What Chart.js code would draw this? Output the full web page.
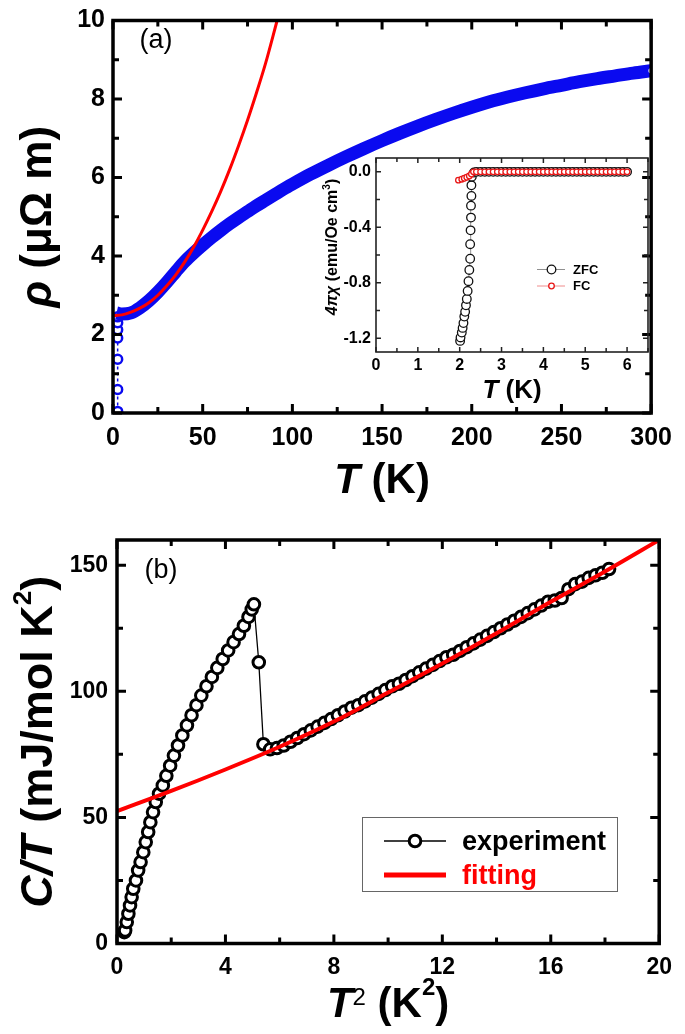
<!DOCTYPE html>
<html>
<head>
<meta charset="utf-8">
<script src="https://cdn.jsdelivr.net/npm/chart.js@4.4.1/dist/chart.umd.min.js"></script>
<style>
  body { margin: 0; background: #fff; }
  #wrap { position: relative; width: 685px; height: 1034px; overflow: hidden; background: #fff; }
  canvas { position: absolute; }
</style>
</head>
<body>
<div id="wrap">
  <canvas id="chartA" width="685" height="502" style="left:0;top:0"></canvas>
  <canvas id="chartInset" width="360" height="260" style="left:300px;top:145px"></canvas>
  <canvas id="chartB" width="685" height="534" style="left:0;top:500px"></canvas>
</div>
<script>
// ---- panel (a): resistivity vs T ----
const bandT = [2, 5, 10, 15, 20, 25, 30, 35, 40, 45, 50, 55, 60, 65, 70, 75, 80, 85, 90, 95, 100,
  110, 120, 130, 140, 150, 160, 170, 180, 190, 200, 210, 220, 230, 240, 250, 260, 270, 280, 290, 300];
const bandRho = [2.55, 2.52, 2.55, 2.68, 2.86, 3.08, 3.33, 3.6, 3.86, 4.08, 4.28, 4.47, 4.65, 4.82, 4.98, 5.13, 5.28, 5.42, 5.56, 5.7, 5.83,
  6.08, 6.31, 6.53, 6.74, 6.94, 7.13, 7.31, 7.48, 7.64, 7.79, 7.93, 8.05, 8.16, 8.26, 8.35, 8.44, 8.52, 8.59, 8.66, 8.72];
// superconducting drop near 2 K
const dropT = [2.6, 2.6, 2.6, 2.6, 2.6, 2.6, 2.6];
const dropRho = [0.04, 0.6, 1.37, 1.91, 2.12, 2.3, 2.45];
// fit curve (red)
const fitT = [0, 5, 10, 15, 20, 25, 30, 35, 40, 45, 50, 55, 60, 65, 70, 75, 80, 85, 91.5];
const fitRho = [2.48, 2.5, 2.57, 2.67, 2.81, 3.0, 3.24, 3.52, 3.85, 4.23, 4.66, 5.13, 5.64, 6.2, 6.81, 7.46, 8.16, 8.9, 10.0];

// ---- inset: susceptibility ----
const zfcT = [2.01, 2.02, 2.05, 2.07, 2.09, 2.11, 2.13, 2.15, 2.17, 2.19, 2.21, 2.23, 2.25, 2.25, 2.26, 2.27, 2.27, 2.28, 2.28, 2.29, 2.34,
  2.4, 2.5, 2.6, 2.7, 2.8, 2.9, 3.0, 3.1, 3.2, 3.3, 3.4, 3.5, 3.6, 3.7, 3.8, 3.9, 4.0, 4.1, 4.2, 4.3, 4.4, 4.5, 4.6, 4.7, 4.8, 4.9,
  5.0, 5.1, 5.2, 5.3, 5.4, 5.5, 5.6, 5.7, 5.8, 5.9, 6.0];
const zfcChi = [-1.22, -1.195, -1.16, -1.126, -1.091, -1.044, -1.01, -0.963, -0.917, -0.859, -0.789, -0.708, -0.627, -0.522, -0.422, -0.33, -0.244, -0.174, -0.097, -0.035, -0.005,
  0, 0, 0, 0, 0, 0, 0, 0, 0, 0, 0, 0, 0, 0, 0, 0, 0, 0, 0, 0, 0, 0, 0, 0, 0, 0,
  0, 0, 0, 0, 0, 0, 0, 0, 0, 0, 0];
const fcT = [1.97, 2.05, 2.11, 2.17, 2.23, 2.28, 2.33,
  2.4, 2.5, 2.6, 2.7, 2.8, 2.9, 3.0, 3.1, 3.2, 3.3, 3.4, 3.5, 3.6, 3.7, 3.8, 3.9, 4.0, 4.1, 4.2, 4.3, 4.4, 4.5, 4.6, 4.7, 4.8, 4.9,
  5.0, 5.1, 5.2, 5.3, 5.4, 5.5, 5.6, 5.7, 5.8, 5.9, 6.0];
const fcChi = [-0.06, -0.053, -0.046, -0.039, -0.03, -0.016, 0,
  0, 0, 0, 0, 0, 0, 0, 0, 0, 0, 0, 0, 0, 0, 0, 0, 0, 0, 0, 0, 0, 0, 0, 0, 0, 0,
  0, 0, 0, 0, 0, 0, 0, 0, 0, 0, 0];

// ---- panel (b): C/T vs T^2 ----
const expT2 = [0.27, 0.30, 0.36, 0.42, 0.48, 0.54, 0.60, 0.70, 0.78, 0.87, 0.97, 1.06, 1.15, 1.23, 1.33, 1.43, 1.55, 1.69,
  1.82, 1.96, 2.10, 2.25, 2.41, 2.58, 2.75, 2.93, 3.11, 3.30, 3.50, 3.70, 3.90, 4.10, 4.30, 4.50, 4.68, 4.85, 4.97, 5.05,
  5.23, 5.40, 5.65, 5.90, 6.15, 6.40, 6.65, 6.90, 7.15, 7.40, 7.65, 7.90, 8.15, 8.40, 8.65, 8.90, 9.15, 9.40, 9.65, 9.90,
  10.15, 10.40, 10.65, 10.90, 11.15, 11.40, 11.65, 11.90, 12.15, 12.40, 12.65, 12.90, 13.15, 13.40, 13.65, 13.90,
  14.15, 14.40, 14.65, 14.90, 15.15, 15.40, 15.65, 15.90, 16.15, 16.40, 16.65, 16.90, 17.15, 17.40, 17.65, 17.90, 18.15];
const expCT = [4.5, 5.2, 8.5, 11.8, 15.1, 18.4, 21.7, 25, 29, 32.3, 36.2, 40.2, 44.2, 48.1, 52.1, 56.1, 59.4, 62.7,
  66.5, 70.5, 74.5, 78.5, 82.5, 86.5, 90.5, 94.5, 98.3, 102, 105.7, 109.3, 112.8, 116.2, 119.5, 122.7, 126, 129.5, 132.5, 134.5,
  111.5, 79, 77, 77.5, 78.5, 80, 81.5, 83, 84.5, 86, 87.5, 89, 90.5, 92, 93.5, 94.5, 96, 97.5, 99, 100.5,
  102, 103, 104.5, 106, 107.5, 109, 110.5, 112, 113.5, 114.5, 116, 117.5, 119, 120.5, 122, 123.5,
  125, 126.5, 128, 129.5, 131, 132.5, 134, 135.5, 136, 137, 140.5, 142.5, 143.5, 145, 146, 147, 148.5];
const fitT2 = [0, 2, 4, 6, 8, 10, 12, 14, 16, 18, 20];
const fitCT = [52.5, 60.5, 69, 78, 88, 99.5, 111, 123, 135.5, 147.5, 160];

const FONT = "'Liberation Sans', Arial, Helvetica, sans-serif";
const pts = (xs, ys) => xs.map((x, i) => ({ x: x, y: ys[i] }));

// text made of runs with different fonts, centred on (cx, baseline cy)
function drawRuns(ctx, runs, cx, cy, angle) {
  ctx.save();
  ctx.translate(cx, cy);
  ctx.rotate(angle || 0);
  ctx.textBaseline = 'alphabetic';
  ctx.textAlign = 'left';
  let total = 0;
  runs.forEach(r => { ctx.font = r.font; r.w = ctx.measureText(r.text).width; total += r.w; });
  let x = -total / 2;
  runs.forEach(r => {
    ctx.font = r.font;
    ctx.fillStyle = r.color || '#000';
    ctx.fillText(r.text, x, r.dy || 0);
    x += r.w;
  });
  ctx.restore();
}

// frame with inward tick marks on all four sides
function framePlugin(o) {
  return {
    id: 'frame',
    afterDatasetsDraw(chart) {
      const { ctx, chartArea: a, scales } = chart;
      ctx.save();
      ctx.strokeStyle = o.color || '#000';
      ctx.lineWidth = o.tickWidth;
      ctx.lineCap = 'butt';
      const marks = (scale, minor, major, horiz) => {
        const k0 = Math.ceil(scale.min / minor - 1e-6), k1 = Math.floor(scale.max / minor + 1e-6);
        for (let k = k0; k <= k1; k++) {
          const v = k * minor;
          const isMajor = Math.abs(v / major - Math.round(v / major)) < 1e-6;
          const len = isMajor ? o.majorLen : o.minorLen;
          const p = scale.getPixelForValue(v);
          ctx.beginPath();
          if (horiz) {
            ctx.moveTo(p, a.bottom); ctx.lineTo(p, a.bottom - len);
            ctx.moveTo(p, a.top); ctx.lineTo(p, a.top + len);
          } else {
            ctx.moveTo(a.left, p); ctx.lineTo(a.left + len, p);
            ctx.moveTo(a.right, p); ctx.lineTo(a.right - len, p);
          }
          ctx.stroke();
        }
      };
      marks(scales.x, o.xMinor, o.xMajor, true);
      marks(scales.y, o.yMinor, o.yMajor, false);
      ctx.lineWidth = o.frameWidth;
      ctx.strokeRect(a.left, a.top, a.right - a.left, a.bottom - a.top);
      ctx.restore();
    }
  };
}

function linAxis(min, max, step, fontSize, pad, fit, horiz, fmt) {
  return {
    type: 'linear', min: min, max: max,
    grid: { display: false, drawTicks: false },
    border: { display: false },
    ticks: {
      stepSize: step, includeBounds: false, autoSkip: false, maxRotation: 0,
      padding: pad, color: '#000',
      font: { family: FONT, size: fontSize, weight: 'bold', lineHeight: 1 },
      callback: fmt || (v => String(v))
    },
    afterFit: s => { if (horiz) s.height = fit; else s.width = fit; }
  };
}

Chart.defaults.animation = false;
Chart.defaults.devicePixelRatio = 1;

// ---------- panel (a) ----------
new Chart(document.getElementById('chartA'), {
  type: 'scatter',
  data: {
    datasets: [
      {
        data: pts(fitT, fitRho), showLine: true, borderColor: '#ff0000', borderWidth: 3,
        pointRadius: 0, cubicInterpolationMode: 'monotone', clip: 0
      },
      {
        data: pts(bandT, bandRho), showLine: true, borderColor: '#0a0af0', borderWidth: 13,
        cubicInterpolationMode: 'monotone', clip: 0,
        pointRadius: ctx => ctx.dataIndex === bandT.length - 1 ? 4 : 0,
        pointBorderColor: '#0a0af0', pointBackgroundColor: '#fff', pointBorderWidth: 2.5
      },
      {
        data: pts(dropT, dropRho), showLine: true, borderColor: '#0a0af0', borderWidth: 1.5,
        borderDash: [3, 3], pointRadius: 4.5, pointBorderWidth: 2.5,
        pointBorderColor: '#0a0af0', pointBackgroundColor: '#fff', clip: 0
      }
    ]
  },
  options: {
    responsive: false,
    layout: { padding: { left: 0, top: 12, right: 23, bottom: 0 } },
    plugins: { legend: { display: false }, tooltip: { enabled: false } },
    scales: {
      x: linAxis(0, 300, 50, 25, 13, 502 - 413, true),
      y: linAxis(0, 10, 2, 25, 8, 113, false)
    }
  },
  plugins: [
    framePlugin({ xMinor: 25, xMajor: 50, yMinor: 1, yMajor: 2, majorLen: 9, minorLen: 6, tickWidth: 3, frameWidth: 3.5 }),
    {
      id: 'titlesA',
      afterDraw(chart) {
        const ctx = chart.ctx, a = chart.chartArea;
        const cx = (a.left + a.right) / 2;
        drawRuns(ctx, [
          { text: 'T', font: `italic bold 42px ${FONT}` },
          { text: ' (K)', font: `bold 42px ${FONT}` }
        ], cx, 493);
        drawRuns(ctx, [
          { text: 'ρ', font: `italic bold 44px ${FONT}` },
          { text: ' (μΩ m)', font: `bold 44px ${FONT}` }
        ], 51, (a.top + a.bottom) / 2, -Math.PI / 2);
        drawRuns(ctx, [{ text: '(a)', font: `27px ${FONT}` }], 156, 48);
      }
    }
  ]
});

// ---------- inset ----------
new Chart(document.getElementById('chartInset'), {
  type: 'scatter',
  data: {
    datasets: [
      {
        label: 'FC', data: pts(fcT, fcChi), showLine: true, borderColor: '#f08c8c', borderWidth: 1,
        pointRadius: 2.8, pointBorderWidth: 1.3, pointBorderColor: '#e81818', pointBackgroundColor: '#fff'
      },
      {
        label: 'ZFC', data: pts(zfcT, zfcChi), showLine: true, borderColor: '#909090', borderWidth: 1,
        pointRadius: 4.3, pointBorderWidth: 1.3, pointBorderColor: '#111', pointBackgroundColor: '#fff'
      }
    ]
  },
  options: {
    responsive: false,
    layout: { padding: { left: 0, top: 8, right: 12, bottom: 0 } },
    plugins: { legend: { display: false }, tooltip: { enabled: false } },
    scales: {
      x: linAxis(0, 6.5, 1, 16, 6, 260 - 207, true),
      y: linAxis(-1.3, 0.1, 0.4, 16, 5, 76, false, v => (Math.abs(v) < 1e-9 ? 0 : v).toFixed(1))
    }
  },
  plugins: [
    framePlugin({ xMinor: 0.5, xMajor: 1, yMinor: 0.2, yMajor: 0.4, majorLen: 5, minorLen: 4, tickWidth: 1.5, frameWidth: 1.6, color: '#222' }),
    {
      id: 'titlesInset',
      afterDraw(chart) {
        const ctx = chart.ctx, a = chart.chartArea;
        drawRuns(ctx, [
          { text: 'T', font: `italic bold 26px ${FONT}` },
          { text: ' (K)', font: `bold 26px ${FONT}` }
        ], (a.left + a.right) / 2, 253);
        drawRuns(ctx, [
          { text: '4πχ', font: `italic bold 16px ${FONT}` },
          { text: ' (emu/Oe cm', font: `bold 16px ${FONT}` },
          { text: '3', font: `bold 10px ${FONT}`, dy: -7 },
          { text: ')', font: `bold 16px ${FONT}` }
        ], 37, 102, -Math.PI / 2);
        // legend
        ctx.save();
        ctx.lineWidth = 1;
        ctx.strokeStyle = '#909090';
        ctx.beginPath(); ctx.moveTo(237, 124.5); ctx.lineTo(265, 124.5); ctx.stroke();
        ctx.strokeStyle = '#f08c8c';
        ctx.beginPath(); ctx.moveTo(237, 141); ctx.lineTo(265, 141); ctx.stroke();
        ctx.fillStyle = '#fff';
        ctx.lineWidth = 1.3;
        ctx.strokeStyle = '#111';
        ctx.beginPath(); ctx.arc(251.5, 124.5, 4.3, 0, Math.PI * 2); ctx.fill(); ctx.stroke();
        ctx.strokeStyle = '#e81818';
        ctx.beginPath(); ctx.arc(251.5, 141, 2.8, 0, Math.PI * 2); ctx.fill(); ctx.stroke();
        ctx.fillStyle = '#000';
        ctx.font = `bold 13px ${FONT}`;
        ctx.textBaseline = 'middle';
        ctx.fillText('ZFC', 273, 125);
        ctx.fillText('FC', 273, 141.5);
        ctx.restore();
      }
    }
  ]
});

// ---------- panel (b) ----------
new Chart(document.getElementById('chartB'), {
  type: 'scatter',
  data: {
    datasets: [
      {
        data: pts(fitT2, fitCT), showLine: true, borderColor: '#ff0000', borderWidth: 4,
        pointRadius: 0, cubicInterpolationMode: 'monotone', clip: 0
      },
      {
        data: pts(expT2, expCT), showLine: true, borderColor: '#000', borderWidth: 1.3,
        pointRadius: 5.8, pointBorderWidth: 3, pointBorderColor: '#000', pointBackgroundColor: '#fff'
      }
    ]
  },
  options: {
    responsive: false,
    layout: { padding: { left: 0, top: 40, right: 18, bottom: 0 } },
    plugins: { legend: { display: false }, tooltip: { enabled: false } },
    scales: {
      x: linAxis(0, 20, 4, 23, 13, 534 - 443.5, true),
      y: linAxis(0, 160, 50, 23, 9, 117, false)
    }
  },
  plugins: [
    framePlugin({ xMinor: 2, xMajor: 4, yMinor: 25, yMajor: 50, majorLen: 9, minorLen: 6, tickWidth: 3, frameWidth: 3.5 }),
    {
      id: 'titlesB',
      afterDraw(chart) {
        const ctx = chart.ctx, a = chart.chartArea;
        drawRuns(ctx, [
          { text: 'T', font: `italic bold 42px ${FONT}` },
          { text: '2', font: `24px ${FONT}`, dy: -12 },
          { text: ' (K', font: `bold 42px ${FONT}` },
          { text: '2', font: `bold 24px ${FONT}`, dy: -22 },
          { text: ')', font: `bold 42px ${FONT}` }
        ], (a.left + a.right) / 2, 517);
        drawRuns(ctx, [
          { text: 'C/T', font: `italic bold 45px ${FONT}` },
          { text: ' (mJ/mol K', font: `bold 45px ${FONT}` },
          { text: '2', font: `bold 26px ${FONT}`, dy: -21 },
          { text: ')', font: `bold 45px ${FONT}` }
        ], 52, (a.top + a.bottom) / 2, -Math.PI / 2);
        drawRuns(ctx, [{ text: '(b)', font: `27px ${FONT}` }], 161, 78);
        // legend box
        ctx.save();
        ctx.strokeStyle = '#666';
        ctx.lineWidth = 1;
        ctx.strokeRect(362.5, 317.5, 255, 74);
        ctx.strokeStyle = '#000';
        ctx.lineWidth = 1.5;
        ctx.beginPath(); ctx.moveTo(384, 341); ctx.lineTo(446, 341); ctx.stroke();
        ctx.lineWidth = 3;
        ctx.fillStyle = '#fff';
        ctx.beginPath(); ctx.arc(415, 341, 5.8, 0, Math.PI * 2); ctx.fill(); ctx.stroke();
        ctx.strokeStyle = '#ff0000';
        ctx.lineWidth = 5;
        ctx.beginPath(); ctx.moveTo(384, 375); ctx.lineTo(446, 375); ctx.stroke();
        ctx.font = `bold 27px ${FONT}`;
        ctx.textBaseline = 'alphabetic';
        ctx.fillStyle = '#000';
        ctx.fillText('experiment', 462, 350);
        ctx.fillStyle = '#ff0000';
        ctx.fillText('fitting', 462, 384);
        ctx.restore();
      }
    }
  ]
});
</script>
</body>
</html>
